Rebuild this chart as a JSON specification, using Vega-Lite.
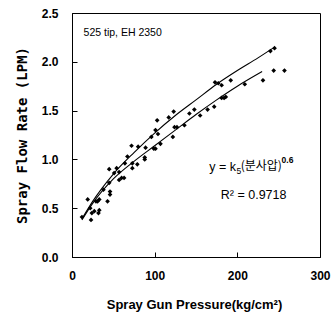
{
  "$schema": "https://vega.github.io/schema/vega-lite/v6.json",
  "width": 248,
  "height": 244,
  "autosize": "none",
  "padding": {"left": 72, "top": 13, "right": 11, "bottom": 70},
  "background": "white",
  "config": {
    "view": {"stroke": "black", "strokeWidth": 1},
    "font": "Liberation Sans"
  },
  "datasets": {
    "pts": [
      {"p": 12, "q": 0.41}, {"p": 19, "q": 0.59}, {"p": 22, "q": 0.5}, {"p": 23, "q": 0.38},
      {"p": 24, "q": 0.45}, {"p": 27, "q": 0.47}, {"p": 29, "q": 0.57}, {"p": 31, "q": 0.57},
      {"p": 32, "q": 0.45}, {"p": 33, "q": 0.59}, {"p": 33, "q": 0.48}, {"p": 38, "q": 0.69},
      {"p": 43, "q": 0.57}, {"p": 45, "q": 0.76}, {"p": 46, "q": 0.64}, {"p": 46, "q": 0.67},
      {"p": 45, "q": 0.9}, {"p": 51, "q": 0.86}, {"p": 54, "q": 0.91}, {"p": 57, "q": 0.87},
      {"p": 57, "q": 0.79}, {"p": 60, "q": 0.81}, {"p": 63, "q": 0.81}, {"p": 64, "q": 0.96},
      {"p": 67, "q": 1.03}, {"p": 72, "q": 1.14}, {"p": 73, "q": 0.91}, {"p": 73, "q": 0.96},
      {"p": 79, "q": 0.95}, {"p": 80, "q": 1.13}, {"p": 88, "q": 1.02}, {"p": 88, "q": 1.0},
      {"p": 89, "q": 1.12}, {"p": 96, "q": 1.23}, {"p": 99, "q": 1.11}, {"p": 101, "q": 1.3},
      {"p": 101, "q": 1.11}, {"p": 104, "q": 1.26}, {"p": 103, "q": 1.4}, {"p": 107, "q": 1.16},
      {"p": 117, "q": 1.43}, {"p": 122, "q": 1.23}, {"p": 123, "q": 1.49}, {"p": 124, "q": 1.33},
      {"p": 127, "q": 1.33}, {"p": 136, "q": 1.35}, {"p": 142, "q": 1.47}, {"p": 148, "q": 1.51},
      {"p": 155, "q": 1.45}, {"p": 164, "q": 1.51}, {"p": 172, "q": 1.54}, {"p": 173, "q": 1.79},
      {"p": 177, "q": 1.78}, {"p": 181, "q": 1.76}, {"p": 181, "q": 1.63}, {"p": 184, "q": 1.63},
      {"p": 186, "q": 1.64}, {"p": 192, "q": 1.81}, {"p": 209, "q": 1.77}, {"p": 231, "q": 1.81},
      {"p": 240, "q": 2.11}, {"p": 245, "q": 2.14}, {"p": 244, "q": 1.91}, {"p": 257, "q": 1.91}
    ],
    "fits": [
      {"s": "upper", "p": 12, "q": 0.39}, {"s": "upper", "p": 25, "q": 0.57}, {"s": "upper", "p": 50, "q": 0.85},
      {"s": "upper", "p": 75, "q": 1.07}, {"s": "upper", "p": 100, "q": 1.27}, {"s": "upper", "p": 125, "q": 1.45},
      {"s": "upper", "p": 150, "q": 1.61}, {"s": "upper", "p": 175, "q": 1.77}, {"s": "upper", "p": 200, "q": 1.91},
      {"s": "upper", "p": 225, "q": 2.04}, {"s": "upper", "p": 245, "q": 2.15},
      {"s": "lower", "p": 12, "q": 0.38}, {"s": "lower", "p": 25, "q": 0.55}, {"s": "lower", "p": 50, "q": 0.8},
      {"s": "lower", "p": 75, "q": 0.98}, {"s": "lower", "p": 100, "q": 1.14}, {"s": "lower", "p": 125, "q": 1.3},
      {"s": "lower", "p": 150, "q": 1.46}, {"s": "lower", "p": 175, "q": 1.61}, {"s": "lower", "p": 200, "q": 1.75},
      {"s": "lower", "p": 230, "q": 1.9}
    ],
    "one": [{}]
  },
  "layer": [
    {
      "data": {"name": "pts"},
      "mark": {"type": "point", "shape": "diamond", "filled": true, "color": "black", "size": 22, "opacity": 1},
      "encoding": {
        "x": {
          "field": "p", "type": "quantitative",
          "scale": {"domain": [0, 300], "nice": false, "zero": true},
          "axis": {
            "values": [0, 100, 200, 300], "grid": false, "domainColor": "black", "tickColor": "black",
            "tickSize": -5, "labelPadding": 18, "labelFontWeight": "bold",
            "labelFontSize": 12, "labelColor": "black", "labelFlush": false,
            "title": "Spray Gun Pressure(kg/cm²)", "titleFontSize": 13,
            "titleFontWeight": "bold", "titleColor": "black", "titleX": 122, "titleY": 47, "titleBaseline": "middle"
          }
        },
        "y": {
          "field": "q", "type": "quantitative",
          "scale": {"domain": [0, 2.5], "nice": false},
          "axis": {
            "values": [0, 0.5, 1, 1.5, 2, 2.5], "format": ".1f", "grid": false, "domainColor": "black", "tickColor": "black",
            "tickSize": -5, "labelPadding": 19, "labelFontWeight": "bold",
            "labelFontSize": 12, "labelColor": "black", "labelFlush": false,
            "title": "Spray Flow Rate (LPM)", "titleFont": "DejaVu Sans Mono", "titleFontSize": 14,
            "titleFontWeight": "bold", "titleColor": "black", "titleAngle": -90, "titleX": -50, "titleY": 122,
            "titleBaseline": "middle", "titleAlign": "center"
          }
        }
      }
    },
    {
      "data": {"name": "fits"},
      "mark": {"type": "line", "color": "black", "strokeWidth": 1.1, "interpolate": "monotone"},
      "encoding": {
        "x": {"field": "p", "type": "quantitative"},
        "y": {"field": "q", "type": "quantitative"},
        "detail": {"field": "s"}
      }
    },
    {
      "data": {"name": "one"},
      "mark": {"type": "text", "text": "525 tip, EH 2350", "align": "left", "baseline": "middle", "fontSize": 10.5, "color": "black"},
      "encoding": {"x": {"datum": 14}, "y": {"datum": 2.3}}
    },
    {
      "data": {"name": "one"},
      "mark": {"type": "text", "text": "y = k", "align": "left", "baseline": "middle", "fontSize": 12.5, "color": "black"},
      "encoding": {"x": {"datum": 166}, "y": {"datum": 0.925}}
    },
    {
      "data": {"name": "one"},
      "mark": {"type": "text", "text": "5", "align": "left", "baseline": "middle", "fontSize": 8.5, "color": "black"},
      "encoding": {"x": {"datum": 199}, "y": {"datum": 0.885}}
    },
    {
      "data": {"name": "one"},
      "mark": {"type": "text", "text": "(분사압)", "align": "left", "baseline": "middle", "fontSize": 12, "font": "Noto Sans CJK KR", "color": "black"},
      "encoding": {"x": {"datum": 204}, "y": {"datum": 0.93}}
    },
    {
      "data": {"name": "one"},
      "mark": {"type": "text", "text": "0.6", "align": "left", "baseline": "middle", "fontSize": 8.5, "fontWeight": "bold", "color": "black"},
      "encoding": {"x": {"datum": 253.5}, "y": {"datum": 0.995}}
    },
    {
      "data": {"name": "one"},
      "mark": {"type": "text", "text": "R² = 0.9718", "align": "left", "baseline": "middle", "fontSize": 12.5, "color": "black"},
      "encoding": {"x": {"datum": 180}, "y": {"datum": 0.64}}
    }
  ]
}
